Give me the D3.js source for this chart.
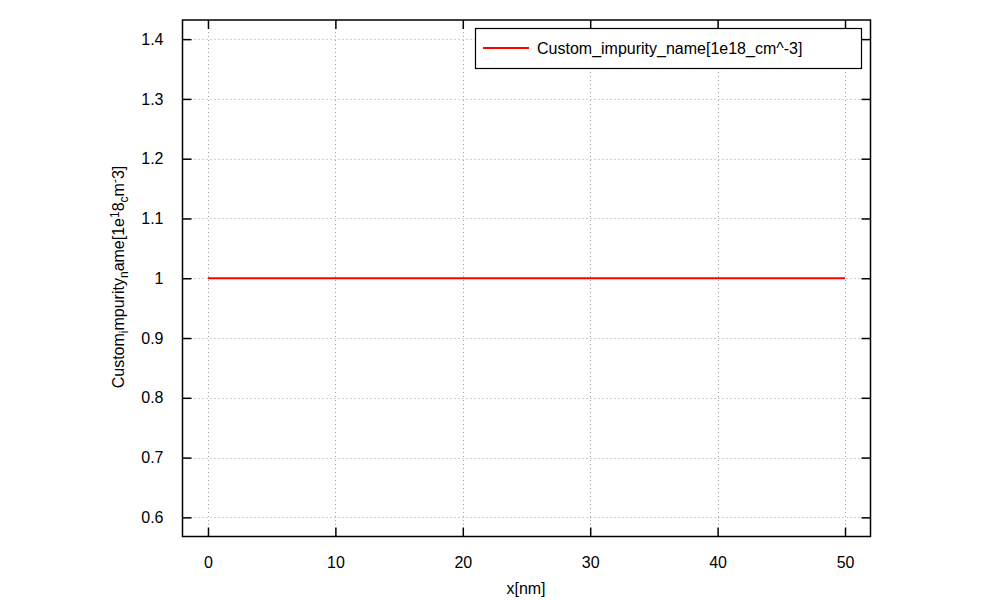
<!DOCTYPE html>
<html><head><meta charset="utf-8">
<script src="https://cdn.jsdelivr.net/npm/d3@7"></script>
<style>body{margin:0;background:#fff}text{font-family:"Liberation Sans",Arial,sans-serif;fill:#000}</style>
</head><body>
<svg id="c" width="1000" height="600"></svg>
<script>
const xValues = [0, 10, 20, 30, 40, 50];
const impurity = [1, 1, 1, 1, 1, 1];
const xTicks = [0, 10, 20, 30, 40, 50];
const yTicks = [0.6, 0.7, 0.8, 0.9, 1, 1.1, 1.2, 1.3, 1.4];
const seriesName = "Custom_impurity_name[1e18_cm^-3]";
const xTitle = "x[nm]";

const svg = d3.select("#c");
const L = 182.5, R = 870.5, T = 20, B = 536.5;
const x = d3.scaleLinear().domain([-2, 52]).range([L, R]);
const y = d3.scaleLinear().domain([0.568, 1.432]).range([B, T]);

// grid
const g = svg.append("g");
g.selectAll(".gx").data(xTicks).join("line")
  .attr("x1", d => Math.round(x(d)) + 0.5).attr("x2", d => Math.round(x(d)) + 0.5)
  .attr("y1", T).attr("y2", B)
  .attr("stroke", "#a0a0a0").attr("stroke-width", 1).attr("stroke-dasharray", "1,3");
g.selectAll(".gy").data(yTicks).join("line")
  .attr("y1", d => Math.round(y(d)) + 0.5).attr("y2", d => Math.round(y(d)) + 0.5)
  .attr("x1", L).attr("x2", R)
  .attr("stroke", "#a0a0a0").attr("stroke-width", 1).attr("stroke-dasharray", "1,3");

// axes with inward ticks
const tl = 9;
const fmt = d => d3.format("")(+d.toFixed(2));
const xb = svg.append("g").attr("transform", `translate(0,${B})`)
  .call(d3.axisBottom(x).tickValues(xTicks).tickSize(-tl).tickPadding(20).tickFormat(d3.format("d")));
const xt = svg.append("g").attr("transform", `translate(0,${T})`)
  .call(d3.axisTop(x).tickValues(xTicks).tickSize(-tl).tickFormat(""));
const yl = svg.append("g").attr("transform", `translate(${L},0)`)
  .call(d3.axisLeft(y).tickValues(yTicks).tickSize(-tl).tickPadding(19).tickFormat(fmt));
const yr = svg.append("g").attr("transform", `translate(${R},0)`)
  .call(d3.axisRight(y).tickValues(yTicks).tickSize(-tl).tickFormat(""));
[xb, xt, yl, yr].forEach(a => {
  a.select(".domain").remove();
  a.selectAll("line").attr("stroke", "#000").attr("stroke-width", 1.5);
  a.selectAll("text").style("font-size", "16px").attr("fill", "#000");
});
svg.append("rect").attr("x", L).attr("y", T).attr("width", R - L).attr("height", B - T)
  .attr("fill", "none").attr("stroke", "#000").attr("stroke-width", 1.5);

// series
svg.append("path").datum(xValues.map((v, i) => [v, impurity[i]]))
  .attr("d", d3.line().x(d => x(d[0])).y(d => y(d[1])))
  .attr("fill", "none").attr("stroke", "#ff0000").attr("stroke-width", 2);

// legend
svg.append("rect").attr("x", 475.5).attr("y", 28.5).attr("width", 386).attr("height", 40)
  .attr("fill", "#fff").attr("stroke", "#000").attr("stroke-width", 1.2);
svg.append("line").attr("x1", 483).attr("x2", 529).attr("y1", 48).attr("y2", 48)
  .attr("stroke", "#ff0000").attr("stroke-width", 2);
svg.append("text").attr("x", 537).attr("y", 54).style("font-size", "16px").text(seriesName);

// x title
svg.append("text").attr("x", 526).attr("y", 594).attr("text-anchor", "middle").style("font-size", "16px").text(xTitle);

// y title (enhanced-text style rendering)
const yt = svg.append("text").attr("transform", "translate(124,277) rotate(-90)")
  .attr("text-anchor", "middle").style("font-size", "16px");
const parts = [["Custom",0],["i",1],["mpurity",0],["n",1],["ame[1e",0],["1",-1],["8",0],["c",1],["m",0],["-",-1],["3",0],["]",0]];
parts.forEach(([t, s]) => {
  const sp = yt.append("tspan").text(t);
  if (s === 1) sp.attr("baseline-shift", "-30%").style("font-size", "12px");
  if (s === -1) sp.attr("baseline-shift", "40%").style("font-size", "12px");
});
</script>
</body></html>
